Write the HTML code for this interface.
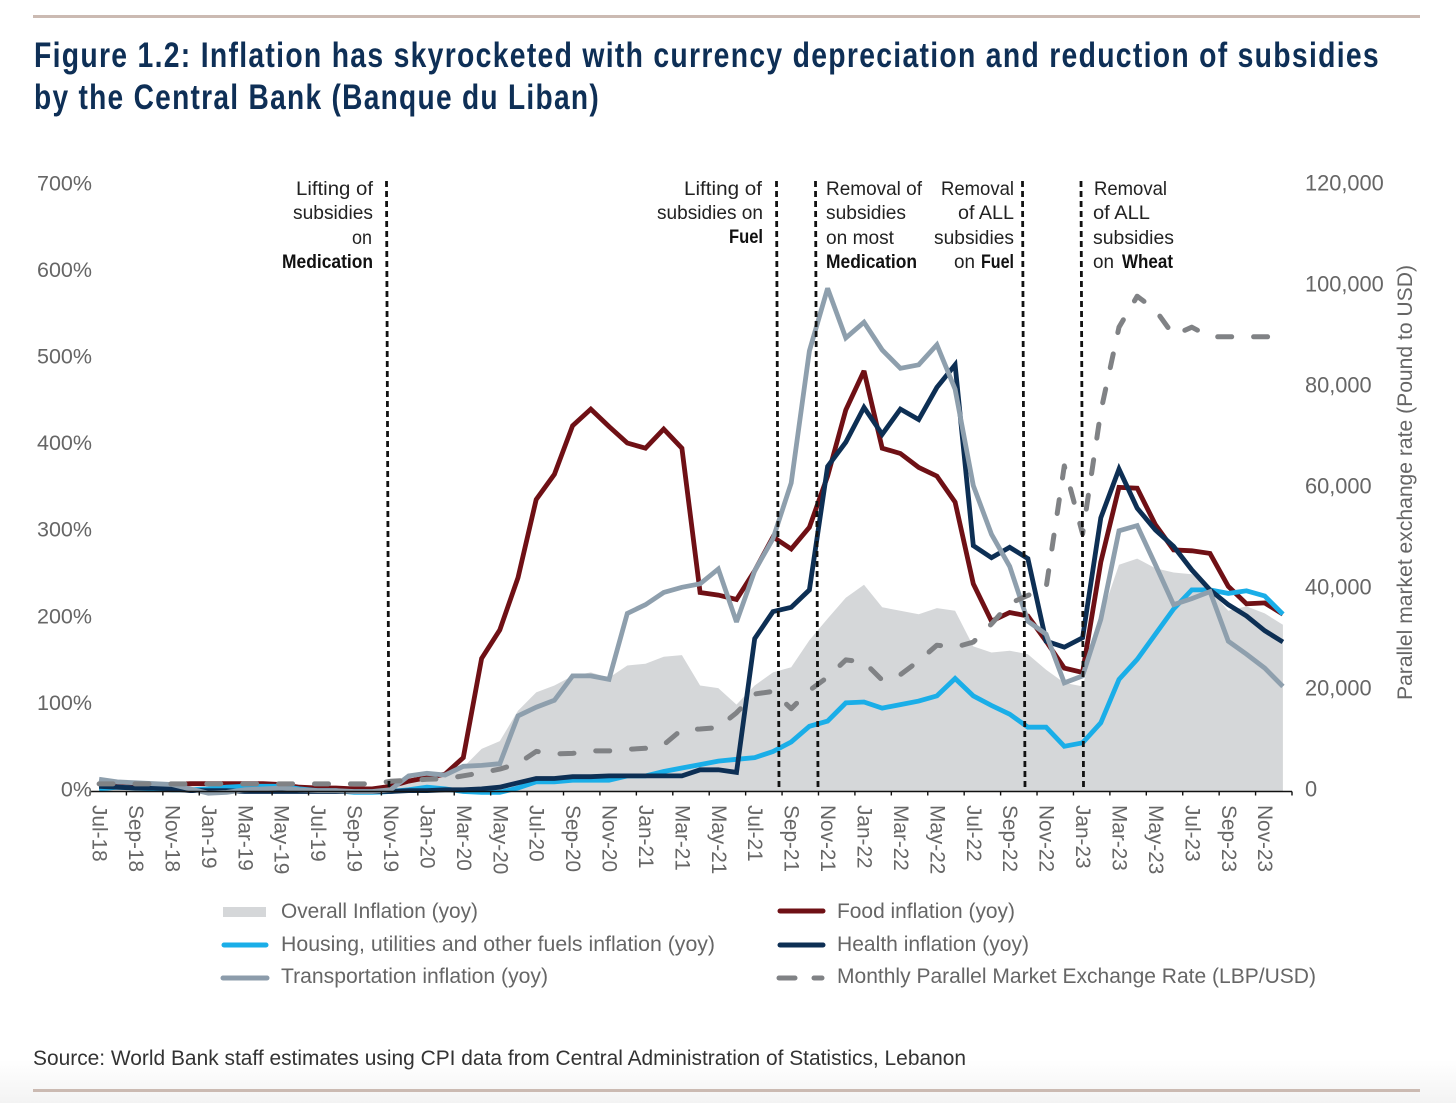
<!DOCTYPE html>
<html lang="en">
<head>
<meta charset="utf-8">
<title>Figure 1.2: Inflation in Lebanon</title>
<style>
html,body{margin:0;padding:0;background:#fff;width:1456px;height:1103px;overflow:hidden}
svg{display:block;font-family:"Liberation Sans",Arial,sans-serif}
.tick{font-size:21.5px;fill:#666}
.rtick{font-size:21.8px;fill:#666}
.xtick{font-size:20.8px;fill:#666}
.leg{font-size:21.5px;fill:#666}
.ann{font-size:19.5px;fill:#222}
.annb{font-size:19.5px;fill:#111;font-weight:bold}
.title{font-size:35px;font-weight:bold;fill:#0e2f56;letter-spacing:1.6px}
</style>
</head>
<body>
<svg id="chart" xmlns="http://www.w3.org/2000/svg" width="1456" height="1103" viewBox="0 0 1456 1103">
  <defs>
    <linearGradient id="fade" x1="0" y1="0" x2="0" y2="1">
      <stop offset="0" stop-color="#ffffff"/>
      <stop offset="1" stop-color="#f3f3f3"/>
    </linearGradient>
  </defs>
  <rect x="0" y="0" width="1456" height="1103" fill="#fff"/>
  <rect x="0" y="1060" width="1456" height="43" fill="url(#fade)"/>
  <rect x="33" y="15" width="1387" height="3" fill="#cbbab2"/>
  <rect x="33" y="1089" width="1387" height="3" fill="#cbbab2"/>

  <text class="title" x="34" y="67" textLength="1346" lengthAdjust="spacingAndGlyphs">Figure 1.2: Inflation has skyrocketed with currency depreciation and reduction of subsidies</text>
  <text class="title" x="34" y="109" textLength="566" lengthAdjust="spacingAndGlyphs">by the Central Bank (Banque du Liban)</text>

  <g id="plot"></g>
  <g id="axes"></g>

  <g stroke="#111" stroke-width="2.8" stroke-dasharray="6 4" fill="none">
    <line x1="386.5" y1="181" x2="389" y2="789"/>
    <line x1="776.5" y1="181" x2="779" y2="789"/>
    <line x1="815.5" y1="181" x2="818" y2="789"/>
    <line x1="1022.5" y1="181" x2="1025" y2="789"/>
    <line x1="1081" y1="181" x2="1083.5" y2="789"/>
  </g>

  <g>
    <text class="ann" x="296" y="195" textLength="77" lengthAdjust="spacingAndGlyphs">Lifting of</text>
    <text class="ann" x="293" y="219" textLength="80" lengthAdjust="spacingAndGlyphs">subsidies</text>
    <text class="ann" x="352" y="244" textLength="20" lengthAdjust="spacingAndGlyphs">on</text>
    <text class="annb" x="282" y="268" textLength="91" lengthAdjust="spacingAndGlyphs">Medication</text>
  </g>
  <g>
    <text class="ann" x="684" y="195" textLength="78" lengthAdjust="spacingAndGlyphs">Lifting of</text>
    <text class="ann" x="657" y="219" textLength="106" lengthAdjust="spacingAndGlyphs">subsidies on</text>
    <text class="annb" x="729" y="243" textLength="34" lengthAdjust="spacingAndGlyphs">Fuel</text>
  </g>
  <g>
    <text class="ann" x="826" y="195" textLength="96" lengthAdjust="spacingAndGlyphs">Removal of</text>
    <text class="ann" x="826" y="219" textLength="80" lengthAdjust="spacingAndGlyphs">subsidies</text>
    <text class="ann" x="826" y="244" textLength="68" lengthAdjust="spacingAndGlyphs">on most</text>
    <text class="annb" x="826" y="268" textLength="91" lengthAdjust="spacingAndGlyphs">Medication</text>
  </g>
  <g>
    <text class="ann" x="941" y="195" textLength="73" lengthAdjust="spacingAndGlyphs">Removal</text>
    <text class="ann" x="958" y="219" textLength="56" lengthAdjust="spacingAndGlyphs">of ALL</text>
    <text class="ann" x="934" y="244" textLength="80" lengthAdjust="spacingAndGlyphs">subsidies</text>
    <text class="ann" x="954" y="268" textLength="21" lengthAdjust="spacingAndGlyphs">on</text>
    <text class="annb" x="981" y="268" textLength="33" lengthAdjust="spacingAndGlyphs">Fuel</text>
  </g>
  <g>
    <text class="ann" x="1094" y="195" textLength="73" lengthAdjust="spacingAndGlyphs">Removal</text>
    <text class="ann" x="1093" y="219" textLength="57" lengthAdjust="spacingAndGlyphs">of ALL</text>
    <text class="ann" x="1093" y="244" textLength="81" lengthAdjust="spacingAndGlyphs">subsidies</text>
    <text class="ann" x="1093" y="268" textLength="21" lengthAdjust="spacingAndGlyphs">on</text>
    <text class="annb" x="1122" y="268" textLength="51" lengthAdjust="spacingAndGlyphs">Wheat</text>
  </g>

  <text class="leg" transform="translate(1412,700) rotate(-90)" x="0" y="0" textLength="435" lengthAdjust="spacingAndGlyphs">Parallel market exchange rate (Pound to USD)</text>

  <g>
    <g>
      <rect x="223" y="907" width="43" height="10" fill="#d5d7d9"/>
      <text class="leg" x="281" y="918" textLength="197" lengthAdjust="spacingAndGlyphs">Overall Inflation (yoy)</text>
    </g>
    <g>
      <line x1="224" y1="945" x2="266" y2="945" stroke="#1aaee8" stroke-width="5" stroke-linecap="round"/>
      <text class="leg" x="281" y="951" textLength="434" lengthAdjust="spacingAndGlyphs">Housing, utilities and other fuels inflation (yoy)</text>
    </g>
    <g>
      <line x1="223" y1="978" x2="267" y2="978" stroke="#8c9cab" stroke-width="5" stroke-linecap="round"/>
      <text class="leg" x="281" y="983" textLength="267" lengthAdjust="spacingAndGlyphs">Transportation inflation (yoy)</text>
    </g>
    <g>
      <line x1="780" y1="911" x2="823" y2="911" stroke="#6f1015" stroke-width="5" stroke-linecap="round"/>
      <text class="leg" x="837" y="918" textLength="178" lengthAdjust="spacingAndGlyphs">Food inflation (yoy)</text>
    </g>
    <g>
      <line x1="780" y1="945" x2="823" y2="945" stroke="#0d2f54" stroke-width="5" stroke-linecap="round"/>
      <text class="leg" x="837" y="951" textLength="192" lengthAdjust="spacingAndGlyphs">Health inflation (yoy)</text>
    </g>
    <g>
      <line x1="779" y1="978" x2="795" y2="978" stroke="#808285" stroke-width="5" stroke-linecap="round"/>
      <line x1="814" y1="978" x2="822" y2="978" stroke="#808285" stroke-width="5" stroke-linecap="round"/>
      <text class="leg" x="837" y="983" textLength="479" lengthAdjust="spacingAndGlyphs">Monthly Parallel Market Exchange Rate (LBP/USD)</text>
    </g>
  </g>

  <text x="33" y="1065" font-size="21" fill="#333" textLength="933" lengthAdjust="spacingAndGlyphs">Source: World Bank staff estimates using CPI data from Central Administration of Statistics, Lebanon</text>
</svg>

<script>
const categories = ["Jul-18","Aug-18","Sep-18","Oct-18","Nov-18","Dec-18","Jan-19","Feb-19","Mar-19","Apr-19","May-19","Jun-19","Jul-19","Aug-19","Sep-19","Oct-19","Nov-19","Dec-19","Jan-20","Feb-20","Mar-20","Apr-20","May-20","Jun-20","Jul-20","Aug-20","Sep-20","Oct-20","Nov-20","Dec-20","Jan-21","Feb-21","Mar-21","Apr-21","May-21","Jun-21","Jul-21","Aug-21","Sep-21","Oct-21","Nov-21","Dec-21","Jan-22","Feb-22","Mar-22","Apr-22","May-22","Jun-22","Jul-22","Aug-22","Sep-22","Oct-22","Nov-22","Dec-22","Jan-23","Feb-23","Mar-23","Apr-23","May-23","Jun-23","Jul-23","Aug-23","Sep-23","Oct-23","Nov-23","Dec-23"];
const overallInflation = [12,10,8,7,6,4,2,1,2,3,3,2,1,1,1,1,2,10,14,18,28,49,58,93,114,122,133,137,131,145,147,155,157,122,119,100,122,137,143,174,199,223,238,212,208,204,211,208,167,160,162,158,140,125,121,200,261,268,257,252,250,232,208,213,205,192];
const foodInflation = [5,6,7,8,8,9,9,9,9,9,8,5,4,4,3,3,6,12,16,20,39,153,186,246,336,365,421,440,420,401,395,417,395,229,226,221,254,293,279,304,363,439,484,395,389,373,363,333,239,196,206,202,173,142,137,264,350,349,307,278,277,274,236,216,217,204];
const housingInflation = [3,5,4,3,2,2,3,5,6,6,6,3,1,1,-1,-1,0,2,5,3,0,-1,-1,4,11,11,13,13,13,18,18,23,27,31,35,37,39,46,57,75,81,102,103,96,100,104,110,130,110,99,89,74,74,52,56,79,129,152,181,210,232,232,228,231,225,204];
const healthInflation = [6,5,4,4,3,1,1,1,0,0,0,0,0,0,0,0,0,1,1,2,2,3,5,10,15,15,17,17,18,18,18,18,18,25,25,22,176,207,212,232,374,402,442,411,440,428,465,491,283,269,281,268,173,166,177,315,371,326,301,282,255,232,215,202,185,172];
const transportInflation = [14,11,10,9,8,3,-2,-1,2,3,4,2,1,1,0,0,2,18,21,19,29,30,32,87,97,105,133,133,129,205,215,229,235,239,256,195,254,291,355,507,579,522,540,508,487,491,514,463,352,296,259,196,181,125,133,198,300,306,261,215,222,230,173,158,142,121];
const exchangeRate = [1500,1500,1500,1500,1500,1500,1500,1500,1500,1500,1500,1500,1500,1500,1500,1500,2000,2200,2400,2500,3100,3700,4400,5500,7900,7400,7500,8000,8000,8300,8500,9200,12200,12300,12600,15500,19200,19700,16300,19900,22500,25900,25500,21900,23000,25700,28800,28400,29400,33000,37000,38600,40100,64100,50700,74800,91400,97500,94800,89800,91400,89500,89500,89500,89500,89500];
const leftTicks = [0,100,200,300,400,500,600,700];
const leftTickLabels = ["0%","100%","200%","300%","400%","500%","600%","700%"];
const rightTicks = [0,20000,40000,60000,80000,100000,120000];
const rightTickLabels = ["0","20,000","40,000","60,000","80,000","100,000","120,000"];

const NS = "http://www.w3.org/2000/svg";
const plot = document.getElementById("plot");
const axes = document.getElementById("axes");
const AXIS_X0 = 90, AXIS_X1 = 1292, AXIS_Y = 791.5, PCT_PX = 0.869, FX_PX = 0.00508;
const LABEL_BASE = 796.5, LABEL_PCT = 0.866, LABEL_FX = 606 / 120000;
const band = (AXIS_X1 - AXIS_X0) / categories.length;

function xPos(i) { return AXIS_X0 + (i + 0.5) * band; }
function yLeft(v) { return AXIS_Y - v * PCT_PX; }
function yRight(v) { return AXIS_Y - v * FX_PX; }
function make(tag, attrs) {
  const el = document.createElementNS(NS, tag);
  for (const k in attrs) el.setAttribute(k, attrs[k]);
  return el;
}
function pathFor(values, yFn) {
  return values.map(function (v, i) { return (i ? "L" : "M") + xPos(i).toFixed(1) + " " + yFn(v).toFixed(1); }).join(" ");
}

/* overall inflation area */
const areaD = pathFor(overallInflation, yLeft) + " L" + xPos(overallInflation.length - 1).toFixed(1) + " " + AXIS_Y + " L" + xPos(0).toFixed(1) + " " + AXIS_Y + " Z";
const area = make("path", { d: areaD, fill: "#d5d7d9" });


plot.appendChild(area);

function lineStyle(color) {
  return { fill: "none", stroke: color, "stroke-width": 4.8, "stroke-linejoin": "miter", "stroke-miterlimit": 3 };
}

const foodLine = make("path", Object.assign({ d: pathFor(foodInflation, yLeft) }, lineStyle("#6f1015")));


plot.appendChild(foodLine);

const housingLine = make("path", Object.assign({ d: pathFor(housingInflation, yLeft) }, lineStyle("#1aaee8")));


plot.appendChild(housingLine);

const healthLine = make("path", Object.assign({ d: pathFor(healthInflation, yLeft) }, lineStyle("#0d2f54")));


plot.appendChild(healthLine);

const transportLine = make("path", Object.assign({ d: pathFor(transportInflation, yLeft) }, lineStyle("#8e9fad")));


plot.appendChild(transportLine);

const fxLine = make("path", { d: pathFor(exchangeRate, yRight), fill: "none", stroke: "#808285", "stroke-width": 5, "stroke-linecap": "round", "stroke-linejoin": "round", "stroke-dasharray": "14 21.9" });


plot.appendChild(fxLine);

/* x axis */
const axisLine = make("line", { x1: AXIS_X0, x2: AXIS_X1, y1: AXIS_Y, y2: AXIS_Y, stroke: "#111", "stroke-width": 1.6 });


axes.appendChild(axisLine);

categories.forEach(function (label, i) {
  if (i % 2 !== 0) return;
  const tx = AXIS_X0 + i * band;
  const tick = make("line", { x1: tx, x2: tx, y1: AXIS_Y, y2: AXIS_Y + 4, stroke: "#111", "stroke-width": 1.4 });
  
  
  axes.appendChild(tick);
  const bx = xPos(i) - 6.5;
  const t = make("text", { class: "xtick", transform: "translate(" + bx.toFixed(1) + ",805) rotate(90)" });
  t.textContent = label;
  
  
  axes.appendChild(t);
});
const lastTick = make("line", { x1: AXIS_X1, x2: AXIS_X1, y1: AXIS_Y, y2: AXIS_Y + 4, stroke: "#111", "stroke-width": 1.4 });


axes.appendChild(lastTick);

/* left axis labels */
leftTicks.forEach(function (v, i) {
  const t = make("text", { class: "tick", x: 92, y: (LABEL_BASE - v * LABEL_PCT).toFixed(1), "text-anchor": "end" });
  t.textContent = leftTickLabels[i];
  
  
  axes.appendChild(t);
});

/* right axis labels */
rightTicks.forEach(function (v, i) {
  const t = make("text", { class: "rtick", x: 1305, y: (LABEL_BASE - v * LABEL_FX).toFixed(1) });
  t.textContent = rightTickLabels[i];
  
  
  axes.appendChild(t);
});
</script>
</body>
</html>
